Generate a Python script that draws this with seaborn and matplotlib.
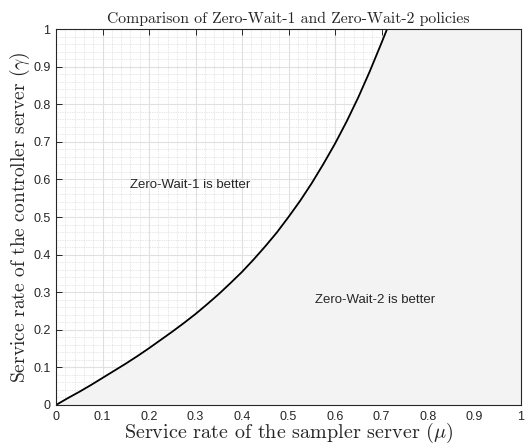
import numpy as np
import pandas as pd
import matplotlib
matplotlib.use("Agg")
import matplotlib.pyplot as plt
import seaborn as sns

# boundary curve between the two policies
mu = [0.0, 0.025, 0.05, 0.075, 0.10, 0.125, 0.15, 0.175, 0.20, 0.225,
      0.25, 0.275, 0.30, 0.325, 0.35, 0.375, 0.40, 0.425, 0.45, 0.475,
      0.50, 0.525, 0.55, 0.575, 0.60, 0.625, 0.65, 0.675, 0.70, 0.712,
      0.80, 0.90, 1.0]
gamma = [0.0, 0.018, 0.035, 0.053, 0.072, 0.091, 0.110, 0.130, 0.151, 0.173,
         0.195, 0.218, 0.242, 0.268, 0.295, 0.324, 0.354, 0.387, 0.422, 0.459,
         0.500, 0.543, 0.590, 0.641, 0.695, 0.754, 0.818, 0.888, 0.963, 1.0,
         1.0, 1.0, 1.0]
ticks = [0, 0.1, 0.2, 0.3, 0.4, 0.5, 0.6, 0.7, 0.8, 0.9, 1]
tick_labels = ["0", "0.1", "0.2", "0.3", "0.4", "0.5", "0.6", "0.7", "0.8", "0.9", "1"]

df = pd.DataFrame({"mu": mu, "gamma": gamma})

sns.set_style("white")
plt.rcParams["mathtext.fontset"] = "cm"

fig = plt.figure(figsize=(5.27, 4.45), dpi=100)
ax = fig.add_axes([0.1063, 0.0899, 0.8823, 0.8449])

ax.fill_between(df["mu"], df["gamma"], 0, color="#f3f3f3", zorder=2, lw=0)
sns.lineplot(data=df, x="mu", y="gamma", color="black", lw=1.3, ax=ax, zorder=3)

ax.set_xlim(0, 1)
ax.set_ylim(0, 1)
ax.set_xticks(ticks)
ax.set_yticks(ticks)
ax.set_xticklabels(tick_labels, fontsize=9, family="Liberation Sans", color="#262626")
ax.set_yticklabels(tick_labels, fontsize=9, family="Liberation Sans", color="#262626")
ax.set_xticks(np.arange(0, 1.001, 0.02), minor=True)
ax.set_yticks(np.arange(0, 1.001, 0.02), minor=True)

ax.set_axisbelow(True)
ax.grid(True, which="major", color="#e0e0e0", lw=0.8)
ax.grid(True, which="minor", color="#cfcfcf", lw=0.5, ls=(0, (1, 1.5)))
ax.tick_params(which="major", direction="in", length=4, width=0.7, color="#262626",
               top=True, right=True, bottom=True, left=True, pad=4)
ax.tick_params(which="minor", length=0)
for s in ax.spines.values():
    s.set_color("#262626")
    s.set_linewidth(0.8)
    s.set_zorder(4)

ax.text(0.159, 0.585, "Zero-Wait-1 is better", fontsize=9.5, family="Liberation Sans",
        va="center", ha="left", zorder=5)
ax.text(0.557, 0.279, "Zero-Wait-2 is better", fontsize=9.5, family="Liberation Sans",
        va="center", ha="left", zorder=5)

ax.set_title("Comparison of Zero-Wait-1 and Zero-Wait-2 policies",
             family="cmr10", fontsize=11.3, pad=4)
ax.set_xlabel(r"Service rate of the sampler server ($\mu$)", family="cmr10",
              fontsize=14.5, labelpad=-1)
ax.set_ylabel(r"Service rate of the controller server ($\gamma$)", family="cmr10",
              fontsize=14, labelpad=1)

fig.savefig("out.png", dpi=100)
